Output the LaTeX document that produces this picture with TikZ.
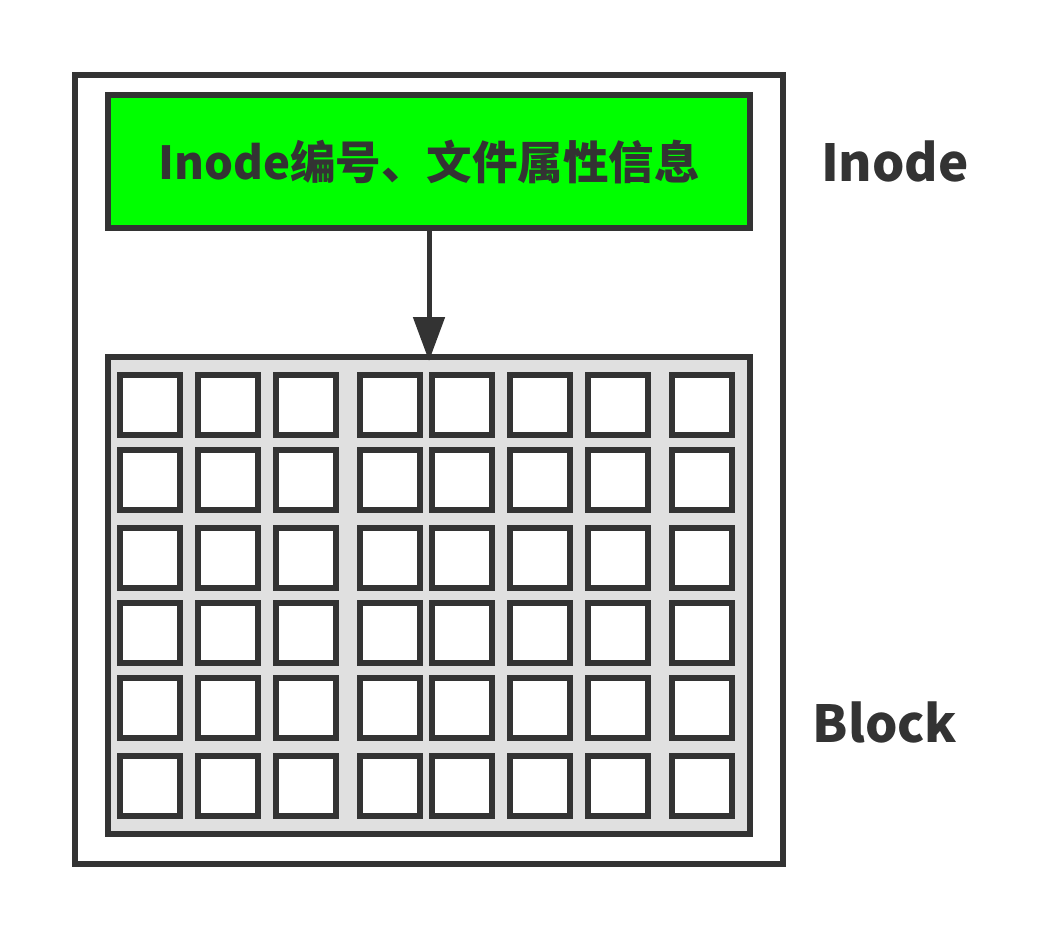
\documentclass[tikz,border=0pt]{standalone}
\usepackage{fontspec}
\newfontfamily\cjk{Noto Sans CJK SC}
\usetikzlibrary{arrows.meta}
\definecolor{dk}{HTML}{333333}
\definecolor{gr}{HTML}{00FF00}
\definecolor{bg}{HTML}{E0E0E0}
\begin{document}
\begin{tikzpicture}[x=1pt,y=-1pt,
  frame/.style={draw=dk,line width=5.5pt,inner sep=0pt,outer sep=0pt},
  cell/.style={frame,fill=white,minimum width=60pt,minimum height=60pt},
  lbl/.style={text=dk,font=\cjk\bfseries\fontsize{51pt}{60pt}\selectfont}]
\useasboundingbox (0,0) rectangle (1059,939);
\node[frame,minimum width=708pt,minimum height=789pt] (outer) at (429,469.5) {};
\node[frame,fill=gr,minimum width=642pt,minimum height=133pt,text=dk,
  font=\cjk\bfseries\fontsize{45.5pt}{54pt}\selectfont] (inode) at (429,161.5) {Inode编号、文件属性信息};
\node[frame,fill=bg,minimum width=642pt,minimum height=477pt] (grid) at (429,595.5) {};
\foreach \cx [count=\i] in {150,228,306,390,462,540,618,702}
  \foreach \cy [count=\j] in {405,480,558,633,708,786}
    \node[cell] (c-\i-\j) at (\cx,\cy) {};
\draw[dk,line width=5pt,shorten >=-4pt,-{Triangle[width=31pt,length=44pt]}] (inode.south) -- (grid.north);
\node[lbl] (linode) at (895,161) {Inode};
\node[lbl] (lblock) at (885,722) {Block};
\end{tikzpicture}
\end{document}
